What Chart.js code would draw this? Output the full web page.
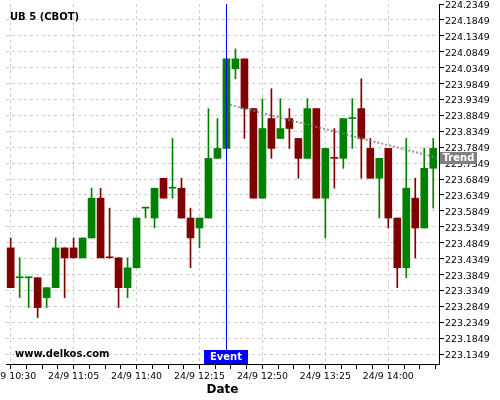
<!DOCTYPE html>
<html>
<head>
<meta charset="utf-8">
<title>UB 5 (CBOT)</title>
<script src="https://cdn.jsdelivr.net/npm/chart.js@4/dist/chart.umd.min.js"></script>
<style>
    html, body { margin: 0; padding: 0; background: #fff; }
    #wrap { width: 500px; height: 400px; }
</style>
</head>
<body>
<div id="wrap"><canvas id="ubChart" width="500" height="400"></canvas></div>
<script>
// 5 minute candles, 24/9 10:30 .. 14:25
var opens = [
    223.46875, 223.375, 223.375, 223.375, 223.3125, 223.34375, 223.46875, 223.46875,
    223.4375, 223.5, 223.625, 223.4385, 223.4375, 223.34375, 223.40625, 223.59375,
    223.5625, 223.6875, 223.65625, 223.65625, 223.5625, 223.53125, 223.5625, 223.75,
    223.78125, 224.03125, 224.0625, 223.90625, 223.625, 223.875, 223.8125, 223.875,
    223.8125, 223.75, 223.90625, 223.625, 223.751, 223.75, 223.875, 223.90625,
    223.78125, 223.6875, 223.78125, 223.5625, 223.40625, 223.625, 223.53125, 223.71875
];
var highs = [
    223.5, 223.4375, 223.375, 223.375, 223.34375, 223.5, 223.46875, 223.5,
    223.5, 223.65625, 223.65625, 223.59375, 223.4375, 223.4375, 223.5625, 223.59375,
    223.65625, 223.6875, 223.8125, 223.6875, 223.59375, 223.5625, 223.90625, 223.875,
    224.0625, 224.09375, 224.0625, 223.90625, 223.9375, 223.96875, 223.9375, 223.90625,
    223.8125, 223.9375, 223.90625, 223.78125, 223.84375, 223.875, 223.9375, 224.0,
    223.8125, 223.75, 223.78125, 223.5625, 223.8125, 223.6875, 223.78125, 223.8125
];
var lows = [
    223.34375, 223.3125, 223.28125, 223.25, 223.28125, 223.34375, 223.3125, 223.4375,
    223.4375, 223.5, 223.4375, 223.4375, 223.28125, 223.3125, 223.40625, 223.5625,
    223.53125, 223.625, 223.625, 223.5625, 223.40625, 223.46875, 223.5625, 223.75,
    223.78125, 224.0, 223.8125, 223.625, 223.625, 223.75, 223.8125, 223.78125,
    223.6875, 223.75, 223.625, 223.5, 223.65625, 223.71875, 223.78125, 223.6875,
    223.6875, 223.5625, 223.53125, 223.34375, 223.375, 223.4375, 223.53125, 223.59375
];
var closes = [
    223.34375, 223.375, 223.375, 223.28125, 223.34375, 223.46875, 223.4375, 223.4375,
    223.5, 223.625, 223.4375, 223.4375, 223.34375, 223.40625, 223.5625, 223.59375,
    223.65625, 223.625, 223.65625, 223.5625, 223.5, 223.5625, 223.75, 223.78125,
    224.0625, 224.0625, 223.90625, 223.625, 223.84375, 223.78125, 223.84375, 223.84375,
    223.75, 223.90625, 223.625, 223.78125, 223.75, 223.875, 223.875, 223.8125,
    223.6875, 223.75, 223.5625, 223.40625, 223.65625, 223.53125, 223.71875, 223.78125
];

var xTickIndex = [0, 7, 14, 21, 28, 35, 42];
var xTickLabels = ['24/9 10:30', '24/9 11:05', '24/9 11:40', '24/9 12:15', '24/9 12:50', '24/9 13:25', '24/9 14:00'];
var yTickLabels = [
    '223.1349', '223.1849', '223.2349', '223.2849', '223.3349', '223.3849', '223.4349', '223.4849',
    '223.5349', '223.5849', '223.6349', '223.6849', '223.7349', '223.7849', '223.8349', '223.8849',
    '223.9349', '223.9849', '224.0349', '224.0849', '224.1349', '224.1849', '224.2349'
];

var eventIndex = 24;
var trendX = [24.4, 47.6];
var trendY = [223.918, 223.751];

(function () {
    var FONT = "'DejaVu Sans', sans-serif";
    var UP = '#008000';
    var DOWN = '#800000';
    var GRID = '#cccccc';

    var yTickValues = yTickLabels.map(Number);
    var xTicks = [];
    for (var t = 0; t <= 47.5; t += 1.75) {
        xTicks.push(t);
    }

    var colors = opens.map(function (o, i) {
        return closes[i] >= o ? UP : DOWN;
    });

    var bodies = opens.map(function (o, i) {
        return { x: i, y: [o, closes[i]] };
    });
    var wicks = lows.map(function (l, i) {
        return { x: i, y: [l, highs[i]] };
    });

    var overlay = {
        id: 'overlay',
        afterDatasetsDraw: function (chart) {
            var ctx = chart.ctx;
            var area = chart.chartArea;
            var x = Math.floor(chart.scales.x.getPixelForValue(eventIndex)) + 0.5;
            ctx.save();
            ctx.strokeStyle = '#0000ff';
            ctx.lineWidth = 1;
            ctx.beginPath();
            ctx.moveTo(x, area.top);
            ctx.lineTo(x, area.bottom - 14);
            ctx.stroke();
            ctx.restore();
        },
        afterDraw: function (chart) {
            var ctx = chart.ctx;
            var area = chart.chartArea;
            var ex = chart.scales.x.getPixelForValue(eventIndex);
            var ty = chart.scales.y.getPixelForValue(trendY[1]);

            ctx.save();
            ctx.fillStyle = '#000';
            ctx.font = 'bold 10px ' + FONT;
            ctx.textAlign = 'left';
            ctx.textBaseline = 'alphabetic';
            ctx.fillText('UB 5 (CBOT)', 10, 19.5);
            ctx.fillText('www.delkos.com', 15, 357);

            ctx.fillStyle = '#0000ff';
            ctx.fillRect(Math.round(ex) - 22, area.bottom - 14, 44, 14);
            ctx.fillStyle = '#808080';
            ctx.fillRect(440, Math.round(ty) - 6, 37, 12);

            ctx.fillStyle = '#fff';
            ctx.textAlign = 'center';
            ctx.textBaseline = 'middle';
            ctx.fillText('Event', Math.round(ex), area.bottom - 6.5);
            ctx.fillText('Trend', 458.5, Math.round(ty) + 0.5);
            ctx.restore();
        }
    };

    new Chart(document.getElementById('ubChart'), {
        type: 'bar',
        data: {
            datasets: [
                {
                    type: 'line',
                    data: [{ x: trendX[0], y: trendY[0] }, { x: trendX[1], y: trendY[1] }],
                    borderColor: 'rgba(128, 128, 128, 0.85)',
                    borderWidth: 2,
                    borderDash: [2, 2],
                    pointRadius: 0,
                    fill: false,
                    order: 0
                },
                {
                    data: bodies,
                    backgroundColor: colors,
                    barThickness: 7,
                    minBarLength: 1,
                    grouped: false,
                    order: 1
                },
                {
                    data: wicks,
                    backgroundColor: colors,
                    barThickness: 1,
                    grouped: false,
                    order: 2
                }
            ]
        },
        options: {
            responsive: false,
            devicePixelRatio: 1,
            animation: false,
            layout: {
                padding: { left: 6, top: 4, right: 0, bottom: 0 }
            },
            plugins: {
                legend: { display: false },
                tooltip: { enabled: false }
            },
            scales: {
                x: {
                    type: 'linear',
                    min: -0.52,
                    max: 47.64,
                    offset: false,
                    bounds: 'data',
                    afterBuildTicks: function (scale) {
                        scale.ticks = xTicks.map(function (v) {
                            return { value: v };
                        });
                    },
                    afterFit: function (scale) {
                        scale.height = 36;
                        scale.paddingLeft = 0;
                        scale.paddingRight = 0;
                    },
                    grid: {
                        offset: false,
                        color: function (c) {
                            return c.tick && xTickIndex.indexOf(c.tick.value) >= 0 ? GRID : 'rgba(0,0,0,0)';
                        },
                        tickColor: '#000',
                        tickLength: 5
                    },
                    border: { color: '#000', width: 1, dash: [3, 3] },
                    ticks: {
                        autoSkip: false,
                        maxRotation: 0,
                        padding: 2,
                        color: '#000',
                        font: { family: FONT, size: 9.4 },
                        callback: function (value) {
                            var i = xTickIndex.indexOf(value);
                            return i >= 0 ? xTickLabels[i] : '';
                        }
                    },
                    title: {
                        display: true,
                        text: 'Date',
                        color: '#000',
                        font: { family: FONT, size: 12, weight: 'bold' },
                        padding: { top: 0, bottom: 3 }
                    }
                },
                y: {
                    position: 'right',
                    min: 223.104,
                    max: 224.2349,
                    beginAtZero: false,
                    bounds: 'data',
                    afterBuildTicks: function (scale) {
                        scale.ticks = yTickValues.map(function (v) {
                            return { value: v };
                        });
                    },
                    afterFit: function (scale) {
                        scale.width = 61;
                        scale.paddingTop = 0;
                        scale.paddingBottom = 0;
                    },
                    grid: {
                        color: function (c) {
                            return c.tick && c.tick.value >= 224.2 ? 'rgba(0,0,0,0)' : GRID;
                        },
                        tickColor: '#000',
                        tickLength: 5
                    },
                    border: { color: '#000', width: 1, dash: [3, 3] },
                    ticks: {
                        padding: 1,
                        labelOffset: 1.5,
                        color: '#000',
                        font: { family: FONT, size: 9.4 },
                        callback: function (value) {
                            return Number(value).toFixed(4);
                        }
                    }
                }
            }
        },
        plugins: [overlay]
    });
})();
</script>
</body>
</html>
